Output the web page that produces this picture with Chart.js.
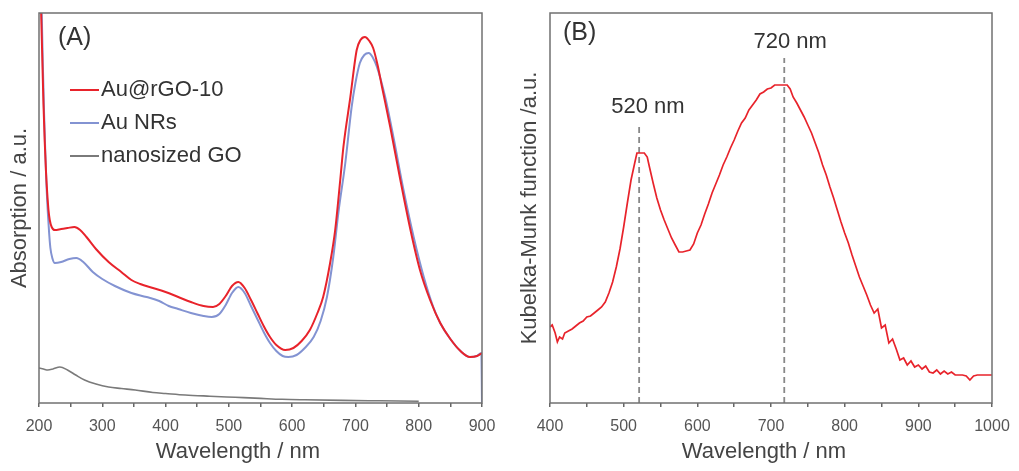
<!DOCTYPE html>
<html><head><meta charset="utf-8">
<script src="https://cdn.jsdelivr.net/npm/chart.js@4.4.1/dist/chart.umd.min.js"></script>
<style>
html,body{margin:0;padding:0;background:#fff;width:1019px;height:471px;overflow:hidden}
#a{position:absolute;left:0;top:0}
#b{position:absolute;left:500px;top:0}
</style></head><body>
<canvas id="a" width="500" height="471"></canvas>
<canvas id="b" width="519" height="471"></canvas>
<script>
// ---------- Panel A data ----------
const rgoWl  = [203,205,207,209,211,213,215,217,220,225,235,245,256,265,275,290,310,330,346,360,380,400,420,440,460,475,485,495,505,515,525,535,545,555,565,575,589,602,615,628,640,649,660,668,676,681,692,702,708,715,722,728,735,742,755,771,787,802,818,834,850,866,881,892,900];
const rgoVal = [400,350,300,262,232,210,193,183,176,173,174,175,176,173,166,154,141,131,123,119,115,111,106,101,97,96,99,107,117,121,115,103,90,77,66,58,53,55,62,73,90,106,140,173,223,256,306,353,363,366,362,355,338,316,276,223,173,133,103,80,64,52,46,47,50];

const nrWl  = [204,206,208,210,212,214,216,218,221,225,235,248,259,270,285,300,320,346,370,390,405,420,440,460,473,485,495,505,515,525,535,545,555,565,575,585,594,607,620,634,645,655,665,673,684,694,700,707,714,721,727,734,747,760,776,792,808,823,834,850,866,881,892,899,900];
const nrVal = [400,340,290,250,215,190,170,155,145,140,141,144,145,141,131,124,117,110,106,102,97,94,90,87,86,89,98,110,116,110,97,84,71,60,52,47,46,48,55,66,82,106,146,190,240,296,320,340,348,350,346,336,306,266,213,166,126,96,80,64,52,46,47,50,0];

const goWl  = [200,207,214,222,233,245,258,272,290,310,330,352,380,400,431,470,510,550,584,620,680,740,800];
const goVal = [35,34,33,34,36,33,28,23,19,16,14.5,13,10.5,9.5,8,6.8,5.7,4.6,3.7,3.2,2.6,2.2,1.8];

const seriesA = ['Au@rGO-10','Au NRs','nanosized GO'];
const ticksA = [200,300,400,500,600,700,800,900];

// ---------- Panel B data ----------
const kmWl  = [400,403,407,410,413,417,420,425,430,435,440,445,450,455,460,465,470,475,480,485,490,495,500,505,510,515,518,528,532,535,540,545,550,555,560,565,570,575,580,585,590,595,600,605,610,615,620,625,630,635,640,645,650,655,660,665,670,675,680,685,690,695,700,705,722,726,730,735,740,745,750,755,760,765,770,775,780,785,790,795,800,805,810,815,820,825,830,835,840,845,850,855,860,865,870,875,880,885,890,895,900,905,910,915,920,925,930,935,940,945,950,960,965,970,975,980,1000];
const kmVal = [76,78,70,61,66,64,70,72,74,77,80,82,86,87,90,93,96,101,110,121,136,154,176,200,223,240,250,250,246,236,220,205,193,183,174,165,158,151,151,152,153,159,170,178,189,199,210,219,228,238,246,255,263,272,280,285,293,298,303,309,311,314,315,318,318,314,306,300,293,286,278,270,260,250,238,228,216,205,193,181,170,160,148,137,126,117,108,98,90,94,75,78,60,64,54,43,45,38,42,36,38,34,37,31,30,33,29,32,29,31,28,28,27,23,27,28,28];
const ticksB = [400,500,600,700,800,900,1000];
const peakWl = [521,718];
const peakTop = [278,345];
const peakLabels = ['520 nm','720 nm'];

const pts = (xs, ys) => xs.map((x, i) => ({x, y: ys[i]}));
const FONT = '"Liberation Sans", Arial, sans-serif';

const decor = {
  id: 'decor',
  afterDraw(chart, args, o) {
    const {ctx, chartArea: a} = chart;
    ctx.save();
    ctx.strokeStyle = '#707070'; ctx.lineWidth = 1.5;
    ctx.strokeRect(a.left, a.top, a.right - a.left, a.bottom - a.top);
    ctx.textBaseline = 'middle';
    ctx.fillStyle = '#333'; ctx.textAlign = 'left';
    ctx.font = '25px ' + FONT;
    ctx.fillText(o.panel, o.panelX, o.panelY);
    ctx.fillStyle = '#444'; ctx.textAlign = 'center';
    ctx.font = '22px ' + FONT;
    ctx.fillText(o.xTitle, o.xTitleX, o.xTitleY);
    if (o.legend) {
      let row = 0;
      chart.data.datasets.forEach(ds => {
        if (!ds.label) return;
        const y = o.legend.y + row * o.legend.dy; row++;
        ctx.strokeStyle = ds.borderColor; ctx.lineWidth = 2;
        ctx.beginPath(); ctx.moveTo(o.legend.x, y); ctx.lineTo(o.legend.x + 29, y); ctx.stroke();
        ctx.fillStyle = '#333'; ctx.textAlign = 'left'; ctx.font = '22px ' + FONT;
        ctx.fillText(ds.label, o.legend.x + 31, y);
      });
    }
    (o.notes || []).forEach(n => {
      ctx.fillStyle = '#333'; ctx.textAlign = 'center'; ctx.font = '22px ' + FONT;
      ctx.fillText(n.text, chart.scales.x.getPixelForValue(n.x), chart.scales.y.getPixelForValue(n.y));
    });
    ctx.restore();
  }
};

function xAxis(min, max, labels) {
  return {
    type: 'linear', min, max,
    afterFit: s => { s.height = 68; s.paddingLeft = 0; s.paddingRight = 0; },
    border: {display: false},
    grid: {drawOnChartArea: false, drawTicks: true, tickLength: 4, color: '#666', lineWidth: 1.5},
    ticks: {stepSize: 50, autoSkip: false, maxRotation: 0, padding: 10, color: '#555',
      font: {size: 16, family: FONT},
      callback: v => labels.includes(v) ? String(v) : ''}
  };
}
function yAxis(title, w, pad) {
  return {
    min: 0, max: 390,
    afterFit: s => { s.width = w; s.paddingTop = 0; s.paddingBottom = 0; },
    border: {display: false},
    grid: {display: false},
    ticks: {display: false},
    title: {display: true, text: title, color: '#444', font: {size: 22, family: FONT}, padding: {top: pad, bottom: 0}}
  };
}
const common = {
  responsive: false, animation: false, devicePixelRatio: 1,
  elements: {point: {radius: 0}},
  plugins: {legend: {display: false}, tooltip: {enabled: false}}
};

new Chart(document.getElementById('a'), {
  type: 'line',
  data: {datasets: [
    {label: seriesA[0], data: pts(rgoWl, rgoVal), borderColor: '#e8232b', borderWidth: 2, cubicInterpolationMode: 'monotone', clip: 0},
    {label: seriesA[1], data: pts(nrWl, nrVal), borderColor: '#8393d2', borderWidth: 2, cubicInterpolationMode: 'monotone', clip: 0},
    {label: seriesA[2], data: pts(goWl, goVal), borderColor: '#7a7a7a', borderWidth: 1.6, cubicInterpolationMode: 'monotone', clip: 0}
  ]},
  options: Object.assign({}, common, {
    layout: {padding: {top: 13, right: 18, left: 0, bottom: 0}},
    scales: {x: xAxis(200, 900, ticksA), y: yAxis('Absorption / a.u.', 39, 7)},
    plugins: Object.assign({}, common.plugins, {decor: {
      panel: '(A)', panelX: 58, panelY: 38,
      xTitle: 'Wavelength / nm', xTitleX: 238, xTitleY: 452,
      legend: {x: 70, y: 90, dy: 33}
    }})
  }),
  plugins: [decor]
});

new Chart(document.getElementById('b'), {
  type: 'line',
  data: {datasets: [
    {data: pts(kmWl, kmVal), borderColor: '#e8232b', borderWidth: 1.7, tension: 0, clip: 0},
    {data: [{x: peakWl[0], y: 0}, {x: peakWl[0], y: peakTop[0]}], borderColor: '#888', borderWidth: 1.8, borderDash: [6, 4], clip: 0},
    {data: [{x: peakWl[1], y: 0}, {x: peakWl[1], y: peakTop[1]}], borderColor: '#888', borderWidth: 1.8, borderDash: [6, 4], clip: 0}
  ]},
  options: Object.assign({}, common, {
    layout: {padding: {top: 13, right: 27, left: 0, bottom: 0}},
    scales: {x: xAxis(400, 1000, ticksB), y: yAxis('Kubelka-Munk function /a.u.', 50, 17)},
    plugins: Object.assign({}, common.plugins, {decor: {
      panel: '(B)', panelX: 63, panelY: 33,
      xTitle: 'Wavelength / nm', xTitleX: 264, xTitleY: 452,
      notes: [{x: 533, y: 296, text: peakLabels[0]}, {x: 726, y: 361, text: peakLabels[1]}]
    }})
  }),
  plugins: [decor]
});
</script>
</body></html>
